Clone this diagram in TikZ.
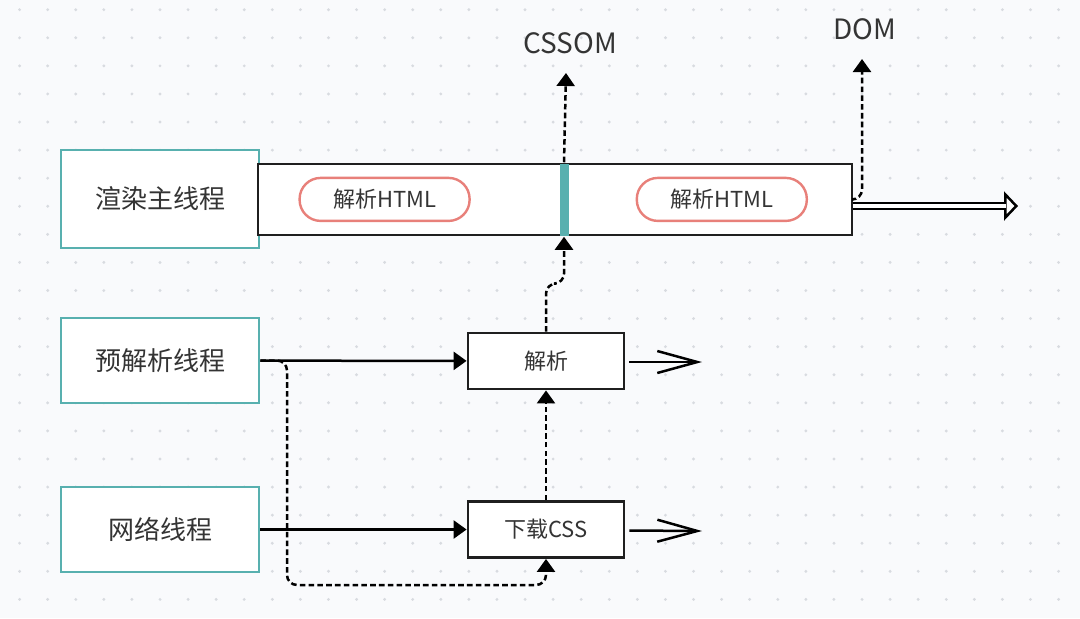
\documentclass[tikz,border=0pt]{standalone}
\usepackage{fontspec}
\setmainfont{Noto Sans CJK SC}
\usetikzlibrary{arrows.meta}
\definecolor{bggray}{RGB}{249,250,252}
\definecolor{dotgray}{RGB}{216,219,224}
\definecolor{threadteal}{RGB}{88,176,175}
\definecolor{pillred}{RGB}{232,128,122}
\definecolor{textgray}{RGB}{52,52,52}

\begin{document}
\begin{tikzpicture}[x=0.5pt,y=-0.5pt,>={Triangle[length=6.5pt,width=9pt]},
line width=1.25pt,
thread node/.style={rectangle,draw=threadteal,fill=white,line width=1.3pt,minimum width=99pt,text=textgray,font=\fontsize{13}{15}\selectfont},
task node/.style={rectangle,draw=black!88,fill=white,line width=1.4pt,minimum width=78pt,minimum height=28pt,text=textgray,font=\fontsize{11}{13}\selectfont},
pill node/.style={rectangle,rounded corners=10.5pt,draw=pillred,fill=white,line width=1.2pt,minimum width=85pt,minimum height=21.5pt,text=textgray,font=\fontsize{11}{13}\selectfont},
label node/.style={text=textgray,font=\fontsize{14}{16}\selectfont},
dash arrow/.style={->,dash pattern=on 2.8pt off 1.6pt,rounded corners=5pt},
out arrow/.style={-{Straight Barb[length=20pt,width=11pt]}}]

% background and dot grid
\fill[bggray] (0,0) rectangle (1080,618);
\useasboundingbox (0,0) rectangle (1080,618);
\foreach \i in {0,...,37}
  \foreach \j in {0,...,21}
    \fill[dotgray] ({19.6+28.08*\i},{9.7+28.08*\j}) circle (0.8pt);

% Threads
  \node[thread node,minimum height=49pt] (render) at (160,199) {渲染主线程};
  \node[thread node,minimum height=42.5pt] (preparse) at (160,360.5) {预解析线程};
  \node[thread node,minimum height=42.5pt] (network) at (160,529.5) {网络线程};

% main thread timeline
  \node[rectangle,draw=black!88,fill=white,line width=1.4pt,minimum width=297pt,minimum height=35.5pt] (mainbar) at (555,199.5) {};
  \node[pill node] (html1) at (384.6,199.4) {解析HTML};
  \node[pill node] (html2) at (721.8,199.4) {解析HTML};
  \node[fill=threadteal,inner sep=0pt,minimum width=4.5pt,minimum height=36pt] (cssomstep) at (564,199.5) {};

% tasks
  \node[task node] (parse) at (546,361) {解析};
  \node[task node] (download) at (546,529.5) {下载CSS};

% results
  \node[label node] (cssom) at (570,43) {CSSOM};
  \node[label node] (dom) at (865,29) {DOM};
  \coordinate (cssomtip) at (566,73);
  \coordinate (domtip) at (862,59);
  \coordinate (parseout) at (702,362);
  \coordinate (cssout) at (702,531);
  \coordinate (done) at (1018,206);
  \coordinate (detour) at (287,585);

  \path[->]
    (preparse) edge (parse)
    (network) edge (download);

  \draw[out arrow] ([xshift=2pt,yshift=-0.5pt]parse.east) -- (parseout);
  \draw[out arrow] ([xshift=2pt,yshift=-0.5pt]download.east) -- (cssout);

  % hollow head first, double shaft over its back edge
  \draw[-{Triangle[open,length=7pt,width=14.5pt,fill=white]}] ([xshift=-7pt]done) -- (done);
  \draw[double,double distance=2.2pt,line width=1.1pt] (mainbar.east |- done) -- ([xshift=-6pt]done);

% dashed dependencies
  \draw[dash arrow] (cssomstep.north) -- (cssomtip);
  \draw[dash arrow] (mainbar.east) -| (domtip);
  \draw[dash arrow] (parse.north) -- ++(0,-48) -| (cssomstep.south);
  \draw[dash arrow] (download.north) -- (parse.south);
  \draw[dash arrow] (preparse.east) -| (detour) -| (download.south);

\end{tikzpicture}
\end{document}
